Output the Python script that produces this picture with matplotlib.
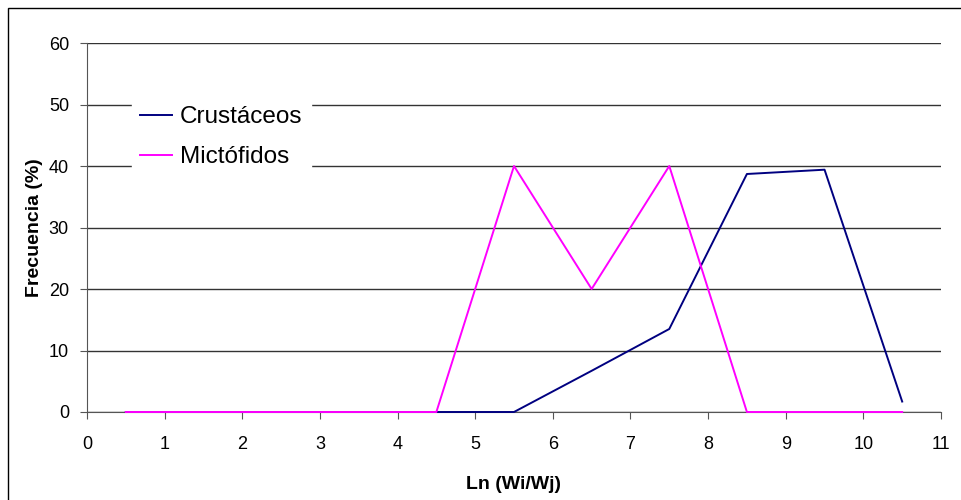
import matplotlib.pyplot as plt
from matplotlib.patches import Rectangle

x = [0.5, 1.5, 2.5, 3.5, 4.5, 5.5, 6.5, 7.5, 8.5, 9.5, 10.5]
crustaceos = [0, 0, 0, 0, 0, 0, 6.7, 13.5, 38.7, 39.4, 1.7]
mictofidos = [0, 0, 0, 0, 0, 40, 20, 40, 0, 0, 0]

plt.rcParams['font.family'] = ['Liberation Sans', 'DejaVu Sans']

fig = plt.figure(figsize=(9.61, 5.0), dpi=100)
ax = fig.add_axes([87 / 961, 88 / 500, 854 / 961, 369 / 500])

# frame around the whole chart
fig.patches.append(Rectangle((8 / 961, -0.1), 1.2, 1 - 8 / 500 + 0.1, transform=fig.transFigure,
                             fill=False, edgecolor='black', linewidth=1))

ax.plot(x, crustaceos, color='#000080', linewidth=1.4, label='Crustáceos', zorder=3, clip_on=False)
ax.plot(x, mictofidos, color='#ff00ff', linewidth=1.4, label='Mictófidos', zorder=3, clip_on=False)

ax.set_xlim(0, 11)
ax.set_ylim(0, 60)
ax.set_xticks(range(0, 12))
ax.set_yticks(range(0, 61, 10))
ax.yaxis.grid(True, color='#333333', linewidth=1)
ax.set_axisbelow(True)

for s in ['top', 'right']:
    ax.spines[s].set_visible(False)
ax.spines['left'].set_color('#555555')
ax.spines['bottom'].set_color('#555555')
ax.tick_params(axis='both', labelsize=13, length=5, color='#555555')
ax.tick_params(axis='x', pad=12)
ax.tick_params(axis='y', pad=8)

ax.set_xlabel('Ln (Wi/Wj)', fontsize=14, fontweight='bold', labelpad=17)
ax.set_ylabel('Frecuencia (%)', fontsize=14, fontweight='bold', labelpad=4)

leg = ax.legend(loc='upper left', bbox_to_anchor=(0.038, 0.885), fontsize=17.5, frameon=True,
                fancybox=False, edgecolor='white', framealpha=1, handlelength=1.3,
                handletextpad=0.35, labelspacing=0.75, borderpad=0.35)

fig.savefig('out.png', dpi=100)
